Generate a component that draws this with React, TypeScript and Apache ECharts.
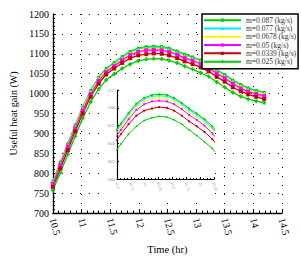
import React, { useEffect, useRef } from 'react';
import * as echarts from 'echarts';

const times = [10.5, 10.63, 10.76, 10.89, 11.02, 11.16, 11.3, 11.43, 11.57, 11.71, 11.85, 11.99, 12.13, 12.26, 12.4, 12.53, 12.67, 12.8, 12.94, 13.08, 13.22, 13.36, 13.5, 13.64, 13.78, 13.91, 14.05, 14.19];

const m087 = [780, 828, 874, 921, 966, 1008, 1041, 1063, 1078, 1093, 1106, 1114, 1118, 1119, 1118, 1114, 1107, 1099, 1092, 1084, 1074, 1060, 1048, 1034, 1023, 1014, 1008, 1003];
const m077 = [778, 826, 872, 919, 964, 1006, 1039, 1061, 1076, 1091, 1104, 1112, 1116, 1117, 1116, 1112, 1105, 1097, 1090, 1082, 1072, 1058, 1046, 1032, 1021, 1012, 1006, 1001];
const m0678 = [776, 824, 870, 916, 961, 1003, 1036, 1058, 1073, 1088, 1101, 1109, 1113, 1114, 1113, 1109, 1102, 1094, 1087, 1079, 1069, 1055, 1043, 1029, 1018, 1009, 1003, 999];
const m05 = [773, 821, 867, 913, 958, 999, 1032, 1054, 1069, 1084, 1097, 1105, 1109, 1110, 1109, 1105, 1098, 1090, 1083, 1075, 1064, 1051, 1039, 1025, 1013, 1005, 999, 994];
const m0339 = [765, 812, 858, 905, 950, 992, 1025, 1048, 1063, 1077, 1089, 1096, 1099, 1101, 1100, 1096, 1089, 1081, 1074, 1066, 1056, 1042, 1030, 1016, 1006, 998, 992, 986];
const m025 = [757, 802, 847, 893, 938, 979, 1012, 1034, 1049, 1063, 1074, 1082, 1086, 1088, 1087, 1083, 1077, 1069, 1061, 1052, 1043, 1029, 1016, 1003, 993, 986, 981, 977];

const seriesNames = ['m=0.087 (kg/s)', 'm=0.077 (kg/s)', 'm=0.0678 (kg/s)', 'm=0.05 (kg/s)', 'm=0.0339 (kg/s)', 'm=0.025 (kg/s)'];
const seriesValues = [m087, m077, m0678, m05, m0339, m025];
const colors = ['#00cc00', '#00e8f0', '#f5f500', '#ff00ff', '#cc0000', '#00cc00'];

const PLUS = 'path://M1.5,0H3.5V1.5H5V3.5H3.5V5H1.5V3.5H0V1.5H1.5Z';
const symbols = ['rect', 'triangle', PLUS, 'rect', 'rect', PLUS];
const symbolSizes = [3, 3, 3, 4, 4, 4];

const FONT = 'Liberation Serif';
const plain = (v: number) => String(v);

export default function App() {
  const ref = useRef<HTMLDivElement>(null);
  useEffect(() => {
    const chart = echarts.init(ref.current!, null, { renderer: 'svg' });
    const mainSeries = seriesValues.map((vals, i) => ({
      name: seriesNames[i],
      type: 'line',
      xAxisIndex: 0,
      yAxisIndex: 0,
      data: times.map((t, j) => [t, vals[j]]),
      symbol: symbols[i],
      symbolSize: symbolSizes[i],
      showSymbol: true,
      lineStyle: { color: colors[i], width: 1.3 },
      itemStyle: { color: colors[i] },
      z: 3,
    }));
    const insetSeries = seriesValues.map((vals, i) => ({
      name: seriesNames[i],
      type: 'line',
      xAxisIndex: 1,
      yAxisIndex: 1,
      data: times.map((t, j) => [t, vals[j]]),
      symbol: symbols[i],
      symbolSize: 2,
      showSymbol: true,
      lineStyle: { color: colors[i], width: 1 },
      itemStyle: { color: colors[i] },
      z: 6,
      clip: true,
    }));
    const dotted = { show: true, lineStyle: { color: '#000', type: [1, 8], width: 1 } };
    chart.setOption({
      animation: false,
      backgroundColor: '#fff',
      textStyle: { fontFamily: FONT },
      grid: [
        { left: 37, top: 14, right: 19, bottom: 52 },
        { left: 117, top: 90, width: 97, height: 89 },
      ],
      graphic: [
        { type: 'rect', shape: { x: 100, y: 86, width: 115, height: 112 }, style: { fill: '#fff' }, z: 1 },
      ],
      legend: {
        data: seriesNames,
        left: 202,
        top: 14,
        orient: 'vertical',
        itemWidth: 37,
        itemHeight: 4,
        itemGap: 0,
        padding: [2, 2, 3, 1],
        borderColor: '#000',
        borderWidth: 1.5,
        backgroundColor: '#fff',
        textStyle: { fontFamily: FONT, fontSize: 7.5, color: '#333', lineHeight: 8.3 },
        z: 8,
      },
      xAxis: [
        {
          type: 'value',
          gridIndex: 0,
          min: 10.5,
          max: 14.5,
          interval: 0.5,
          name: 'Time (hr)',
          nameLocation: 'middle',
          nameGap: 27,
          nameTextStyle: { fontFamily: FONT, fontSize: 10.5, color: '#000', fontWeight: 'normal' },
          axisLine: { show: true, lineStyle: { color: '#000', width: 1.3 } },
          axisTick: { show: true, inside: true, length: 4, lineStyle: { color: '#000' } },
          minorTick: { show: true, splitNumber: 5, length: 2.5, lineStyle: { color: '#000' } },
          axisLabel: { fontFamily: FONT, fontSize: 10, color: '#000', rotate: -75, margin: 5, formatter: plain },
          splitLine: dotted,
        },
        {
          type: 'value',
          gridIndex: 1,
          min: 11.5,
          max: 13.25,
          interval: 0.25,
          z: 6,
          axisLine: { show: true, lineStyle: { color: '#000', width: 1.2 } },
          axisTick: { show: true, inside: true, length: 2, lineStyle: { color: '#000' } },
          minorTick: { show: true, splitNumber: 4, length: 1, lineStyle: { color: '#000' } },
          axisLabel: { fontFamily: FONT, fontSize: 4, color: '#8888aa', rotate: -75, margin: 3, formatter: plain },
          splitLine: { show: false },
        },
      ],
      yAxis: [
        {
          type: 'value',
          gridIndex: 0,
          min: 700,
          max: 1200,
          interval: 50,
          name: 'Useful heat gain (W)',
          nameLocation: 'middle',
          nameGap: 24,
          nameTextStyle: { fontFamily: FONT, fontSize: 10, color: '#000', fontWeight: 'normal' },
          axisLine: { show: true, lineStyle: { color: '#000', width: 1.3 } },
          axisTick: { show: true, inside: true, length: 3, lineStyle: { color: '#000' } },
          minorTick: { show: true, splitNumber: 5, length: 2, lineStyle: { color: '#000' } },
          axisLabel: { fontFamily: FONT, fontSize: 10, color: '#000', margin: 4, formatter: plain },
          splitLine: dotted,
        },
        {
          type: 'value',
          gridIndex: 1,
          min: 1000,
          max: 1125,
          interval: 25,
          z: 6,
          axisLine: { show: true, lineStyle: { color: '#000', width: 1.2 } },
          axisTick: { show: true, inside: true, length: 2, lineStyle: { color: '#000' } },
          minorTick: { show: true, splitNumber: 5, length: 1, lineStyle: { color: '#000' } },
          axisLabel: { fontFamily: FONT, fontSize: 4, color: '#8888aa', margin: 2, formatter: plain },
          splitLine: { show: false },
        },
      ],
      series: [...mainSeries, ...insetSeries],
    });
    return () => chart.dispose();
  }, []);
  return (
    <div
      ref={ref}
      style={{ position: 'fixed', left: 0, top: 0, width: 301, height: 265, background: '#fff' }}
    />
  );
}
